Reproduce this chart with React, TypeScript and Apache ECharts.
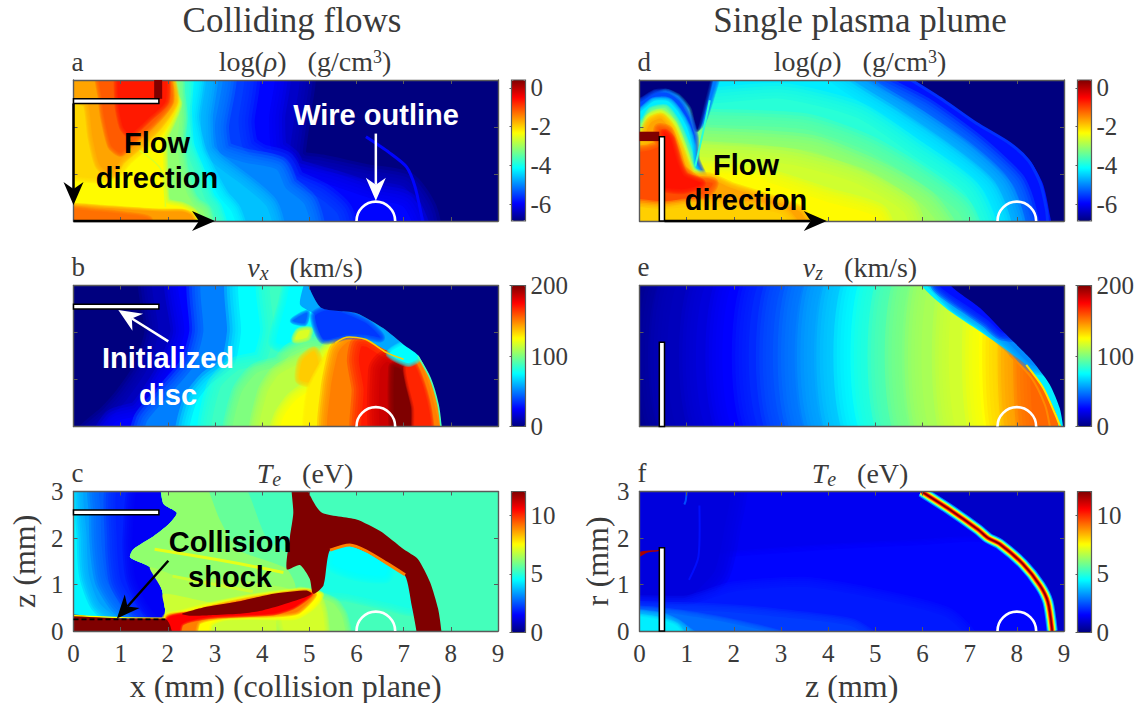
import React, { useEffect, useRef } from "react";
import * as echarts from "echarts";

type Layer = [number, number[]];

const JET = ["#00007f", "#0000ff", "#007fff", "#00ffff", "#7fff7f", "#ffff00", "#ff7f00", "#ff0000", "#7f0000"];
const FULL = [-0.3, -0.3, 9.3, -0.3, 9.3, 3.3, -0.3, 3.3];

const rhoTicks = [0, -2, -4, -6];
const vTicks = [0, 100, 200];
const teTicks = [0, 5, 10];

// a: log density, colliding flows
const rhoCollide: Layer[] = [
  [-7, FULL],
  [-6.5, [-0.3, 3.3, 4.72, 3.3, 4.68, 2.2, 4.59, 1.35, 4.8, 1.15, 5.23, 1.08, 6.2, 0.87, 7, 0.73, 7.38, 0.2, 7.42, -0.3, -0.3, -0.3]],
  [-6.1, [-0.3, 3.3, 4.2, 3.3, 4.15, 2.2, 4.2, 1.5, 4.5, 1.25, 4.6, 1.02, 5.5, 0.75, 6.4, 0.45, 7, 0.3, 7.2, -0.3, -0.3, -0.3]],
  [-5.7, [-0.3, 3.3, 3.55, 3.3, 3.5, 2.1, 3.6, 1.55, 3.95, 1.3, 4.4, 1.18, 4.6, 0.8, 5.2, 0.5, 5.6, 0.15, 5.65, -0.3, -0.3, -0.3]],
  [-5.2, [-0.3, 3.3, 3.1, 3.3, 3.0, 2, 3.1, 1.45, 3.6, 1.25, 4.3, 1.1, 4.5, 0.7, 4.9, 0.35, 5, -0.3, -0.3, -0.3]],
  [-4.8, [-0.3, 3.3, 2.75, 3.3, 2.7, 2.2, 2.75, 1.5, 3, 1.2, 3.6, 0.75, 4.1, 0.3, 4.2, -0.3, -0.3, -0.3]],
  [-4.4, [-0.3, 3.3, 2.5, 3.3, 2.45, 2.2, 2.6, 1.5, 2.85, 0.95, 3.1, 0.5, 3.35, 0.2, 3.45, -0.3, -0.3, -0.3]],
  [-3.9, [-0.3, 3.3, 2.25, 3.3, 2.3, 2.3, 2.35, 1.6, 2.55, 1.1, 2.8, 0.45, 2.95, 0.25, 3.05, -0.3, -0.3, -0.3]],
  [-3.4, [-0.3, 3.3, 2.1, 3.3, 2.2, 2.7, 2.25, 2.2, 2.2, 1.7, 2.25, 1.2, 2.4, 0.6, 2.55, 0.35, 2.75, 0.2, 2.8, -0.3, -0.3, -0.3]],
  [-2.6, [-0.3, 3.3, 1.9, 3.3, 2.1, 2.7, 2.2, 2.5, 2.05, 2.1, 1.9, 1.75, 1.9, 1.2, 1.95, 0.4, 2.3, 0.3, 2.55, 0.15, 2.65, -0.3, -0.3, -0.3]],
  [-2.35, [-0.3, 3.3, 1.9, 3.3, 2.15, 2.55, 1.85, 1.95, 1.5, 1.6, 1.15, 1.3, 0.9, 1, 0.5, 0.9, -0.3, 1.1]],
  [-2, [0.1, 3.3, 1.9, 3.3, 2.12, 2.55, 1.8, 2.05, 1.35, 1.6, 1, 1.3, 0.8, 1, 0.55, 1.2, 0.4, 1.8, 0.3, 2.5, 0.05, 2.6, -0.3, 2.6, -0.3, 3.3]],
  [-1.5, [0.55, 3.3, 1.9, 3.3, 2.05, 2.55, 1.65, 2.05, 1.2, 1.65, 1, 1.45, 0.8, 1.6, 0.65, 2.2, 0.6, 2.6]],
  [-1.05, [1, 3.3, 1.9, 3.3, 1.95, 2.55, 1.6, 2.2, 1.2, 1.85, 1.05, 2, 0.95, 2.5]],
  [-1.95, [-0.3, 0.3, 0.6, 0.28, 1.2, 0.24, 1.9, 0.2, 2.3, 0.2, 2.5, 0.12, 2.6, -0.3, -0.3, -0.3]],
  [-1.65, [-0.3, 0.24, 0.5, 0.2, 1.1, 0.14, 1.6, 0.05, 1.65, -0.3, -0.3, -0.3]],
];
const rhoCollideSoft = [0, 16, 16, 16, 14, 12, 10, 10, 8, 5, 5, 5, 4, 4, 3, 3];
const rhoCollideLines: Layer[] = [
  [-6.1, [6.2, 1.79, 6.7, 1.45, 7.06, 1.15, 7.24, 0.73, 7.4, 0]],
  [-2.9, [1.4, 1.5, 1.85, 1.1, 1.95, 0.3]],
];

// d: log density, single plume
const rhoPlume: Layer[] = [
  [-7, FULL],
  [-6, [-0.3, -0.3, -0.3, 3.3, 5.6, 3.3, 5.76, 3, 6.44, 2.57, 7.14, 2.08, 7.85, 1.65, 8.27, 1.3, 8.55, 0.8, 8.68, 0.23, 8.7, -0.3]],
  [-5.3, [-0.3, -0.3, -0.3, 3.3, 4.8, 3.3, 4.8, 3, 6, 2.35, 7.1, 1.55, 7.9, 0.8, 8.1, 0.3, 8.15, -0.3]],
  [-4.85, [-0.3, -0.3, -0.3, 3.3, 4.45, 3.3, 4.45, 3, 5.7, 2.2, 6.8, 1.45, 7.6, 0.7, 7.85, -0.3]],
  [-4.5, [-0.3, -0.3, -0.3, 3.3, 4.05, 3.3, 4, 3, 5.3, 2.15, 6.4, 1.4, 7.3, 0.65, 7.55, -0.3]],
  [-4.1, [-0.3, -0.3, -0.3, 2.5, 1.5, 2.5, 3, 2.6, 4.6, 2.2, 5.8, 1.4, 6.9, 0.6, 7.2, -0.3]],
  [-3.7, [-0.3, -0.3, -0.3, 2.1, 1.5, 2.05, 3.5, 1.95, 4.8, 1.5, 5.9, 0.85, 6.75, 0.2, 6.9, -0.3]],
  [-3.3, [-0.3, -0.3, -0.3, 1.7, 1.5, 1.65, 3.6, 1.5, 5, 0.95, 6, 0.35, 6.4, -0.3]],
  [-2.95, [-0.3, -0.3, -0.3, 1.4, 1.5, 1.35, 3.2, 1.2, 4.6, 0.8, 5.6, 0.2, 5.7, -0.3]],
  [-2.6, [-0.3, -0.3, -0.3, 1.1, 1.3, 1, 2.6, 0.85, 4, 0.4, 5, 0.1, 5.1, -0.3]],
  [-5.3, [1.4, 3.3, 1.7, 3.3, 1.55, 2.7, 1.35, 2.1, 1.25, 2, 1.3, 2.5]],
  [-7, [-0.3, 3.3, 1.55, 3.3, 1.5, 3, 1.35, 2.4, 1.22, 1.95, 1.1, 2.4, 0.85, 2.7, 0.55, 2.82, 0.25, 2.7, 0, 2.5, -0.3, 2.4]],
  [-5.6, [-0.3, 2.4, 0.05, 2.55, 0.35, 2.72, 0.6, 2.72, 0.85, 2.55, 1.05, 2.2, 1.17, 1.8, 1.2, 1.3, 1.5, 0.5, -0.3, 0.5]],
  [-4.5, [-0.3, 2.15, 0.05, 2.35, 0.3, 2.55, 0.6, 2.55, 0.8, 2.35, 1, 2, 1.12, 1.6, 1.15, 1.2, 1.5, 0.5, -0.3, 0.5]],
  [-3.5, [-0.3, 1.95, 0.08, 2.1, 0.25, 2.35, 0.55, 2.4, 0.75, 2.15, 0.9, 1.85, 1.05, 1.45, 1.1, 1.15, 1.4, 0.6, -0.3, 0.6]],
  [-2.6, [-0.3, 1.85, 0.1, 1.9, 0.2, 2.18, 0.45, 2.28, 0.7, 2.05, 0.85, 1.7, 1, 1.3, 1.1, 1.05, 1.3, 0.98, 1.6, 0.95, 2.6, 0.85, 2.6, -0.3, -0.3, -0.3]],
  [-2, [0.15, 1.9, 0.25, 2.1, 0.45, 2.18, 0.65, 1.95, 0.8, 1.6, 0.95, 1.2, 1.1, 0.95, 1.5, 0.9, 1.95, 0.7, 2.6, 0.5, 3.4, 0.2, 3.6, -0.3, -0.3, -0.3, -0.3, 1.55, 0.1, 1.62, 0.3, 1.7]],
  [-1.4, [0.42, 1.95, 0.6, 1.9, 0.75, 1.5, 0.88, 1.1, 1.2, 0.85, 1.55, 0.8, 1.4, 0.6, 0.9, 0.48, 0.5, 0.4, -0.3, 0.45, -0.3, 1.4, 0.2, 1.5, 0.42, 1.6]],
  [-1, [0.53, 1.85, 0.65, 1.75, 0.8, 1.25, 0.95, 0.95, 1.3, 0.8, 0.95, 0.68, 0.6, 0.7, 0.53, 0.75]],
  [-2.3, [-0.3, 0.28, 0.5, 0.25, 1, 0.3, 2, 0.28, 3, 0.15, 3.3, -0.3, -0.3, -0.3]],
];
const rhoPlumeSoft = [0, 0, 14, 14, 14, 16, 16, 16, 16, 14, 3, 3, 4, 4, 4, 5, 6, 6, 5, 8];
const rhoPlumeLines: Layer[] = [
  [-5.8, [5.76, 3, 6.44, 2.57, 7.14, 2.08, 7.85, 1.65, 8.25, 1.28, 8.5, 0.8, 8.63, 0.23, 8.65, 0]],
  [-4.1, [1.49, 2.57, 1.35, 1.9, 1.18, 1.16]],
];

// b: vx, colliding flows
const vxCollide: Layer[] = [
  [0, FULL],
  [12, [1.75, 3.3, 1.8, 2, 1.55, 1.2, 1.15, 0.6, 0.8, 0.2, 0.3, -0.3, 9.3, -0.3, 9.3, 3.3]],
  [25, [2.3, 3.3, 2.35, 2, 2.1, 1.3, 1.75, 0.7, 1.4, 0.25, 0.9, 0.1, 0.7, -0.3, 9.3, -0.3, 9.3, 3.3]],
  [50, [2.8, 3.3, 2.75, 2, 2.55, 1.3, 2.1, 0.75, 1.7, 0.3, 1.55, 0.1, 1.5, -0.3, 9.3, -0.3, 9.3, 3.3]],
  [75, [3.6, 3.3, 3.55, 2, 3.4, 1.3, 2.9, 0.9, 2.6, 0.5, 2.5, -0.3, 9.3, -0.3, 9.3, 3.3]],
  [87, [4.25, 3.3, 4.25, 2, 4.05, 1.35, 3.5, 1.2, 3.1, 0.8, 3, -0.3, 9.3, -0.3, 9.3, 3.3]],
  [75, [4.7, 3.3, 4.5, 2.6, 4.3, 1.8, 4.5, 1.75, 5.2, 2.3, 5.3, 3.3]],
  [100, [3.9, 1.15, 4.4, 1.3, 4.6, 1.55, 5, 1.7, 5.5, 1.5, 5.5, 0.4, 3.4, -0.3, 3.55, 0.7]],
  [112, [4.35, 1.1, 4.7, 1.3, 5.2, 1.5, 5.6, 1.2, 5.6, 0, 3.95, -0.3, 4.1, 0.7]],
  [125, [4.35, -0.3, 4.45, 0.2, 4.7, 0.55, 5.15, 0.9, 5.44, 1.6, 5.6, 1.8, 6, 1.5, 6, -0.3]],
  [118, [4.78, 2.02, 5, 2.05, 4.95, 1.9, 4.7, 1.85]],
  [135, [4.85, 1.4, 5.1, 1.6, 5.2, 1.3, 5.05, 0.95, 4.8, 1]],
  [128, [5.44, 1.62, 5.55, 1.76, 5.79, 1.88, 6.2, 1.84, 6.64, 1.56, 7, 1.42, 7.3, 1.45, 7.49, 1.17, 7.66, 0.6, 7.77, 0, 7.77, -0.3, 5, -0.3, 5, 0.8]],
  [150, [5.45, -0.3, 5.45, 0.8, 5.6, 1.55, 5.7, 1.7, 5.85, 1.82, 6.2, 1.78, 6.65, 1.5, 7, 1.36, 7.3, 1.4, 7.45, 1.15, 7.62, 0.6, 7.73, -0.3]],
  [170, [6.15, -0.3, 6.15, 0.8, 6.05, 1.4, 6.1, 1.7, 6.2, 1.7, 6.6, 1.45, 6.95, 1.25, 7.05, 0.8, 7.25, -0.3]],
  [185, [6.55, -0.3, 6.5, 1.2, 6.65, 1.38, 6.95, 1.2, 7.05, 0.8, 7.2, 0.4, 7.28, -0.3]],
  [200, [6.85, -0.3, 6.8, 1.25, 6.95, 1.2, 7.05, 0.9, 7.2, 0.4, 7.25, -0.3]],
  [168, [7.25, -0.3, 7.22, 0.4, 7.1, 0.9, 7.05, 1.25, 7.2, 1.35, 7.4, 0.9, 7.55, 0.3, 7.58, -0.3]],
  [58, [4.98, 3.3, 4.98, 3, 5.26, 2.52, 6, 2.41, 6.57, 2.09, 7, 1.74, 7.15, 1.6, 6.7, 1.6, 6.2, 1.84, 5.79, 1.91, 5.3, 1.84, 5.12, 2.37, 4.8, 2.6]],
  [36, [5.12, 2.35, 5.3, 1.86, 5.8, 1.95, 6.2, 1.95, 6.5, 1.9, 6.2, 2.2, 5.7, 2.42, 5.35, 2.47]],
  [75, [6.7, 1.55, 7.05, 1.75, 7.35, 1.5, 7.1, 1.35]],
  [45, [4.65, 2.25, 4.95, 2.42, 4.9, 2.2]],
  [0, [4.98, 3.3, 4.98, 3, 5.26, 2.52, 6, 2.41, 6.57, 2.09, 7, 1.74, 7.3, 1.52, 7.56, 1.03, 7.73, 0.46, 7.8, 0, 7.8, -0.3, 9.3, -0.3, 9.3, 3.3]],
];
const vxCollideSoft = [0, 14, 14, 14, 14, 14, 8, 10, 10, 10, 4, 5, 3, 10, 12, 12, 6, 3, 0, 5, 4, 3, 0];
const vxCollideLines: Layer[] = [
  [135, [5.55, 1.78, 5.79, 1.9, 6.2, 1.85, 6.64, 1.57, 7, 1.43]],
  [90, [7.3, 1.5, 7.56, 1.03, 7.73, 0.46, 7.79, 0]],
];

// e: vz, single plume
const vzLevels = [8, 12, 18, 25, 33, 42, 50, 58, 66, 75, 83, 92, 100, 108, 116, 125, 135, 145, 155];
const vzEdges = [0.6, 1, 1.6, 2.15, 2.7, 3.2, 3.65, 4.05, 4.45, 4.8, 5.15, 5.5, 5.85, 6.25, 6.8, 7.4, 7.8, 8.1, 8.4];
const vzFront: Layer[] = [
  [0, FULL],
  ...vzLevels.map((v, i) => [v, [vzEdges[i], -0.3, 9.3, -0.3, 9.3, 3.3, vzEdges[i], 3.3]] as Layer),
  [72, [5.98, 3.3, 5.98, 3, 6.58, 2.45, 7.22, 2.02, 7.78, 1.63, 8.2, 1.31, 8.56, 0.82, 8.84, 0.25, 8.95, -0.3, 9.3, -0.3, 9.3, 3.3]],
  [52, [6.15, 3.3, 6.7, 2.6, 7.3, 2.2, 7.85, 1.75, 8.35, 1.3, 9.3, 1.3, 9.3, 3.3]],
  [28, [6.35, 3.3, 6.35, 3, 6.9, 2.6, 7.4, 2.25, 7.7, 2, 9, 2, 9.3, 3.3]],
  [0, [6.6, 3.3, 6.6, 3, 7.22, 2.52, 7.78, 1.95, 8.28, 1.45, 8.7, 0.89, 8.91, 0.39, 8.98, 0, 8.98, -0.3, 9.3, -0.3, 9.3, 3.3]],
];
const vzFrontSoft = [0, ...vzLevels.map(() => 17), 0, 8, 8, 0];
const vzLines: Layer[] = [
  [130, [8.2, 1.31, 8.56, 0.82, 8.82, 0.25, 8.92, 0]],
  [148, [7.85, 1.52, 8.3, 1.05, 8.6, 0.45, 8.7, 0]],
];

// c: Te, colliding flows
const cEdge = [1.9, 3.3, 1.9, 2.75, 2.19, 2.54, 2.01, 2.29, 1.7, 2.04, 1.27, 1.76, 1.2, 1.58, 1.62, 1.37, 1.87, 0.9, 1.94, 0.48, 1.94, 0.25];
const teCollide: Layer[] = [
  [4.4, FULL],
  [3.4, [0.3, 3.3, 3, 3.3, 3, -0.3, 1, 0.25, 0.55, 0.6, 0.33, 1.2, 0.28, 2]],
  [2.6, [0.6, 3.3, 3, 3.3, 3, -0.3, 1.4, 0.3, 1, 0.6, 0.7, 1.1, 0.6, 1.8, 0.58, 2.5]],
  [1.9, [1, 3.3, 3, 3.3, 3, -0.3, 1.6, 0.3, 1.25, 0.65, 1, 1.1, 0.92, 1.9]],
  [1.4, [1.45, 3.3, 3, 3.3, 3, -0.3, 1.8, 0.3, 1.5, 0.7, 1.3, 1.2, 1.25, 2]],
  [5.3, [...cEdge, 1.94, -0.3, 9.3, -0.3, 9.3, 3.3]],
  [5.7, [...cEdge, 1.94, -0.3, 5.3, -0.3, 5.3, 0.3, 5.1, 0.9, 4.9, 1.4, 4.1, 2, 3.5, 3.3]],
  [6.2, [...cEdge, 1.94, 0, 4.7, 0.3, 4.7, 1, 4.5, 1.35, 3.5, 1.75, 3.1, 2.4, 2.7, 3.3]],
  [6.5, [1.62, 1.37, 1.87, 0.9, 1.94, 0.48, 1.94, -0.3, 5.2, -0.3, 5.2, 0.5, 4.7, 0.85, 4.4, 0.95, 3.4, 1.1, 2.3, 1.15]],
  [6.9, [1.9, 0.8, 1.94, 0.48, 1.94, -0.3, 5.1, -0.3, 5.1, 0.4, 4.5, 0.6, 3, 0.6]],
  [4.8, [5.3, 0.9, 5.44, 1.74, 5.86, 1.9, 6.21, 1.75, 6.64, 1.45, 7.05, 1.2, 7.2, 0.5, 6.7, 0.6, 5.8, 0.8]],
  [4.5, [5.5, 1.45, 5.6, 1.75, 5.86, 1.88, 6.21, 1.72, 6.64, 1.42, 6.6, 1.2, 6, 1.25]],
  [6.2, [5.1, 0.75, 5.5, 0.6, 5.7, 0.3, 5.75, -0.3, 4.5, -0.3, 4.5, 0.7]],
  [7, [4.8, 0.85, 5.2, 0.65, 5.3, 0.3, 5.3, -0.3, 4.6, -0.3, 4.4, 0.4]],
  [7.5, [1.94, 0.3, 2.3, 0.4, 3, 0.58, 4, 0.77, 4.9, 0.87, 5.25, 0.78, 5.05, 0.5, 4.7, 0.3, 3.8, 0.3, 3.2, 0.28, 2.9, 0.15, 2.8, -0.3, 1.94, -0.3]],
  [9, [2, 0.3, 2.4, 0.36, 3, 0.52, 4, 0.72, 4.9, 0.84, 5.1, 0.78, 4.75, 0.42, 4.3, 0.36, 3.3, 0.33, 2.65, 0.2, 2.5, -0.3, 1.94, -0.3]],
  [10.5, [2, 0.28, 2.6, 0.4, 3.5, 0.6, 4.5, 0.75, 5.05, 0.8, 4.65, 0.5, 4.2, 0.37, 2.9, 0.3, 2.3, 0.15, 2.2, -0.3, 1.94, -0.3]],
  [12, [2.3, 0.37, 2.82, 0.52, 3.53, 0.64, 4.24, 0.8, 4.94, 0.87, 5.05, 0.8, 4.9, 0.72, 4.38, 0.55, 3.9, 0.42, 3.5, 0.37, 2.9, 0.34, 2.47, 0.33]],
  [12, [-0.3, 0.33, 0.5, 0.3, 1, 0.27, 1.94, 0.27, 2.05, 0.12, 2.1, -0.3, -0.3, -0.3]],
  [12, [4.63, 3.3, 4.66, 2.54, 4.59, 2.04, 4.52, 1.33, 4.8, 1.42, 5.01, 1.12, 5.08, 0.8, 5.3, 0.98, 5.44, 1.74, 5.86, 1.83, 6.21, 1.7, 6.64, 1.44, 7.03, 1.19, 7.17, 0.55, 7.27, 0, 7.28, -0.3, 7.8, -0.3, 7.8, 0, 7.73, 0.48, 7.56, 1.05, 7.3, 1.55, 7, 1.76, 6.5, 2.15, 6, 2.4, 5.26, 2.55, 4.98, 3, 4.98, 3.3]],
];
const teCollideSoft = [0, 10, 12, 12, 10, 0, 0, 0, 0, 0, 8, 8, 6, 5, 3, 3, 2, 0, 0, 0];
const teCollideLines: Layer[] = [
  [7.2, [1.72, 1.76, 2.5, 1.63, 3.5, 1.45, 4.45, 1.26]],
  [6.9, [2.1, 1.18, 3, 1, 3.8, 0.85]],
  [7.5, [0, 0.33, 1, 0.29, 1.94, 0.28]],
  [9, [5.44, 1.74, 5.86, 1.85, 6.21, 1.72, 6.64, 1.46, 7.03, 1.21]],
];

// f: Te, single plume
const tePlume: Layer[] = [
  [0.85, FULL],
  [1.35, [-0.3, -0.3, -0.3, 3.3, 5.98, 3.3, 5.98, 3, 6.58, 2.61, 7.18, 2.18, 7.39, 2, 7.64, 1.87, 8.13, 1.44, 8.49, 0.98, 8.66, 0.62, 8.75, 0, 8.75, -0.3]],
  [1.55, [-0.3, -0.3, -0.3, 1.4, 2, 1.6, 4, 1.75, 6, 1.85, 7.3, 1.9, 8.1, 1.4, 8.45, 0.98, 8.62, 0.62, 8.7, -0.3]],
  [1.1, [-0.3, 3.3, 1.9, 3.3, 1.8, 2.2, 1.6, 1.3, 1.2, 0.85, 0.8, 0.65, 0.4, 0.7, -0.3, 0.9]],
  [1.8, [-0.3, 0.5, 1, 0.55, 2, 0.85, 3.5, 0.95, 5, 0.7, 6.5, 0.3, 7, -0.3, -0.3, -0.3]],
  [2.2, [-0.3, 0.42, 0.8, 0.45, 2, 0.4, 3, 0.3, 4.5, 0.1, 5, -0.3, -0.3, -0.3]],
  [2.8, [-0.3, 0.4, 0.5, 0.4, 1.2, 0.3, 2, 0.15, 3, -0.1, 3.2, -0.3, -0.3, -0.3]],
  [3.6, [-0.3, 0.38, 0.42, 0.35, 0.8, 0.2, 1, 0.05, 1.4, -0.3, -0.3, -0.3]],
  [4.3, [-0.3, 0.3, 0.4, 0.25, 0.8, 0.1, 1, -0.3, -0.3, -0.3]],
  [11.5, [0, 1.7, 0.42, 1.74, 0.42, 1.72, 0.15, 1.68, 0, 1.6]],
];
const tePlumeSoft = [0, 0, 6, 16, 10, 8, 5, 3, 3, 0];
const teBandLevels = [3, 4.5, 6, 7.5, 9, 10.5, 12];
const teBandPath = [5.98, 3, 6.58, 2.61, 7.18, 2.18, 7.39, 2, 7.64, 1.87, 8.13, 1.44, 8.49, 0.98, 8.66, 0.62, 8.75, 0];
const tePlumeLines: Layer[] = [
  [2.4, [1, 3, 0.98, 2.8, 0.95, 2.72]],
  [1.65, [1.27, 2.7, 1.25, 1.6, 1.05, 1.1]],
  ...teBandLevels.map((lv) => [lv, teBandPath] as Layer),
];
const bandWidths = [2, 2, 11, 9, 7.5, 6, 4.5, 3, 1.5];

// Overlays, in mm
const discCollide = [0, 2.5, 1.81, 2.6];
const wirePlume = [0.42, 0, 0.53, 1.79];
const wireCentreCollide = 6.41;
const wireCentrePlume = 8.0;
const wireRadius = 0.41;
const blockCollide = [1.71, 2.6, 1.88, 3.1];
const blockPlume = [-0.1, 1.7, 0.42, 1.9];
const shockDash = [0, 0.25, 1.94, 0.25];

type Arrow = [number, number, number, number, string];
const arrowsA: Arrow[] = [
  [0, 2.5, 0, 0.34, "#000"],
  [0, 0, 3, 0, "#000"],
  [6.41, 1.86, 6.41, 0.43, "#fff"],
];
const arrowsB: Arrow[] = [[2.01, 1.81, 0.95, 2.48, "#fff"]];
const arrowsC: Arrow[] = [[2.01, 1.51, 0.92, 0.27, "#000"]];
const arrowsD: Arrow[] = [[0.53, 0, 3.97, 0, "#000"]];

const SERIF = "'Liberation Serif', serif";
const SANS = "'Liberation Sans', sans-serif";
const INK = "#3a3a3a";
const BOX = "#5a5a5a";
const FEATHER = [1, 0.8, 0.6, 0.4, 0.2];

type PanelDef = {
  left: number; top: number; barLeft: number; layers: Layer[]; soft: number[]; lines: Layer[]; lineWidths: number[];
  range: [number, number]; axisRange: [number, number]; ticks: number[]; boxes: number[][]; blocks: number[][];
  circle: number; arrows: Arrow[]; dash?: number[]; labels: boolean; yName?: string; xName?: string; titleX: number;
};
const W = 424.5, H = 141;
const panels: PanelDef[] = [
  { left: 73.5, top: 80, barLeft: 511.5, layers: rhoCollide, soft: rhoCollideSoft, lines: rhoCollideLines, lineWidths: [3, 1.5], range: [-7, 0], axisRange: [-6.85, 0.4], ticks: rhoTicks, boxes: [discCollide], blocks: [blockCollide], circle: wireCentreCollide, arrows: arrowsA, labels: false, titleX: 300 },
  { left: 73.5, top: 285.5, barLeft: 511.5, layers: vxCollide, soft: vxCollideSoft, lines: vxCollideLines, lineWidths: [1.5, 1.6], range: [0, 200], axisRange: [0, 200], ticks: vTicks, boxes: [discCollide], blocks: [], circle: wireCentreCollide, arrows: arrowsB, labels: false, titleX: 300 },
  { left: 73.5, top: 491.5, barLeft: 511.5, layers: teCollide, soft: teCollideSoft, lines: teCollideLines, lineWidths: [3, 3, 1.2, 3], range: [0, 12], axisRange: [0, 12], ticks: teTicks, boxes: [discCollide], blocks: [], circle: wireCentreCollide, arrows: arrowsC, dash: shockDash, labels: true, yName: "z (mm)", xName: "x (mm) (collision plane)", titleX: 300 },
  { left: 639.5, top: 80, barLeft: 1077.5, layers: rhoPlume, soft: rhoPlumeSoft, lines: rhoPlumeLines, lineWidths: [3, 2], range: [-7, 0], axisRange: [-6.85, 0.4], ticks: rhoTicks, boxes: [wirePlume], blocks: [blockPlume], circle: wireCentrePlume, arrows: arrowsD, labels: false, titleX: 855 },
  { left: 639.5, top: 285.5, barLeft: 1077.5, layers: vzFront, soft: vzFrontSoft, lines: vzLines, lineWidths: [2, 2], range: [0, 200], axisRange: [0, 200], ticks: vTicks, boxes: [wirePlume], blocks: [], circle: wireCentrePlume, arrows: [], labels: false, titleX: 855 },
  { left: 639.5, top: 491.5, barLeft: 1077.5, layers: tePlume, soft: tePlumeSoft, lines: tePlumeLines, lineWidths: bandWidths, range: [0, 12], axisRange: [0, 12], ticks: teTicks, boxes: [wirePlume], blocks: [], circle: wireCentrePlume, arrows: [], labels: true, yName: "r (mm)", xName: "z (mm)", titleX: 855 },
];

const panelLetters = ["a", "b", "c", "d", "e", "f"];
const panelTitles = [
  "{n|log(}{i|ρ}{n|)   (g/cm}{u|3}{n|)}",
  "{i|v}{s|x}{n|   (km/s)}",
  "{i|T}{s|e}{n|   (eV)}",
  "{n|log(}{i|ρ}{n|)   (g/cm}{u|3}{n|)}",
  "{i|v}{s|z}{n|   (km/s)}",
  "{i|T}{s|e}{n|   (eV)}",
];
const columnTitles = ["Colliding flows", "Single plasma plume"];

function arrowShape(api: any, a: Arrow) {
  const p0 = api.coord([a[0], a[1]]);
  const p1 = api.coord([a[2], a[3]]);
  const dx = p1[0] - p0[0], dy = p1[1] - p0[1];
  const len = Math.hypot(dx, dy), ux = dx / len, uy = dy / len, nx = -uy, ny = ux;
  const headLen = 23, half = 10, notch = 16;
  const back = [p1[0] - ux * headLen, p1[1] - uy * headLen];
  const mid = [p1[0] - ux * notch, p1[1] - uy * notch];
  return [
    { type: "line", shape: { x1: p0[0], y1: p0[1], x2: mid[0], y2: mid[1] }, style: { stroke: a[4], lineWidth: 2.5 } },
    { type: "polygon", shape: { points: [p1, [back[0] + nx * half, back[1] + ny * half], mid, [back[0] - nx * half, back[1] - ny * half]] }, style: { fill: a[4] } },
  ];
}

function pairs(flat: number[]) {
  const out: number[][] = [];
  for (let i = 0; i + 1 < flat.length; i += 2) out.push([flat[i], flat[i + 1]]);
  return out;
}

function buildOption() {
  const grid: any[] = [], xAxis: any[] = [], yAxis: any[] = [], series: any[] = [], visualMap: any[] = [], title: any[] = [];
  const rich = {
    n: { fontFamily: SERIF, fontSize: 28, color: INK },
    i: { fontFamily: SERIF, fontSize: 28, fontStyle: "italic", color: INK },
    s: { fontFamily: SERIF, fontSize: 20, fontStyle: "italic", color: INK, padding: [10, 0, 0, 0] },
    u: { fontFamily: SERIF, fontSize: 18, color: INK, padding: [0, 0, 8, 0] },
  };
  const mainAxis = (p: PanelDef, gi: number, pos: string, isX: boolean, withLabels: boolean, name?: string) => ({
    type: "value", gridIndex: gi, position: pos, min: 0, max: isX ? 9 : 3, interval: 1,
    axisLine: { show: true, onZero: false, lineStyle: { color: BOX, width: 1.4 } },
    axisTick: { show: true, inside: true, length: 4, lineStyle: { color: BOX, width: 1 } },
    splitLine: { show: false },
    axisLabel: { show: withLabels, color: INK, fontFamily: SERIF, fontSize: 25, margin: 10 },
    z: 6,
    ...(name ? {
      name, nameLocation: "middle", nameGap: isX ? 39 : (p.left > 300 ? 24.5 : 33.5),
      nameRotate: isX ? 0 : 90,
      nameTextStyle: { color: INK, fontFamily: SERIF, fontSize: 32 },
    } : {}),
  });

  panels.forEach((p, i) => {
    const gi = i * 2, bar = gi + 1;
    grid.push({ left: p.left, top: p.top, width: W, height: H, show: false });
    grid.push({ left: p.barLeft, top: p.top, width: 14, height: H, show: true, borderColor: BOX, borderWidth: 1.2, backgroundColor: "transparent", z: 6 });
    const xi = xAxis.length, yi = yAxis.length;
    xAxis.push(mainAxis(p, gi, "bottom", true, p.labels, p.xName));
    xAxis.push(mainAxis(p, gi, "top", true, false));
    yAxis.push(mainAxis(p, gi, "left", false, p.labels, p.yName));
    yAxis.push(mainAxis(p, gi, "right", false, false));
    xAxis.push({ type: "value", gridIndex: bar, min: 0, max: 1, show: false });
    yAxis.push({
      type: "value", gridIndex: bar, position: "right", min: p.axisRange[0], max: p.axisRange[1], z: 6,
      axisLine: { show: false }, splitLine: { show: false },
      axisTick: { show: true, inside: true, length: 2, customValues: p.ticks, lineStyle: { color: BOX } },
      axisLabel: { show: true, customValues: p.ticks, color: INK, fontFamily: SERIF, fontSize: 25, margin: 5 },
    });

    const contourIndex = series.length;
    series.push({
      type: "custom", xAxisIndex: xi, yAxisIndex: yi, clip: true, silent: true,
      data: p.layers.map((l, k) => [l[0], k]),
      dimensions: ["level", "index"],
      encode: { x: 0, y: 1 },
      renderItem: (_: any, api: any) => {
        const k = api.value(1);
        const pts = pairs(p.layers[k][1]).map((c) => api.coord(c));
        const color = api.visual("color");
        const shape = { points: pts, smooth: 0.22 };
        const children: any[] = [];
        const f = p.soft[k] || 0;
        if (f > 0) {
          FEATHER.forEach((s) => children.push({
            type: "polygon", shape, style: { fill: null, stroke: color, lineWidth: 2 * f * s, opacity: 0.3, lineJoin: "round" },
          }));
        }
        children.push({ type: "polygon", shape, style: { fill: color } });
        return { type: "group", children };
      },
    });
    const linesIndex = series.length;
    series.push({
      type: "custom", xAxisIndex: xi, yAxisIndex: yi, clip: true, silent: true,
      data: p.lines.map((l, k) => [l[0], k]),
      dimensions: ["level", "index"],
      encode: { x: 0, y: 1 },
      renderItem: (_: any, api: any) => {
        const k = api.value(1);
        const pts = pairs(p.lines[k][1]).map((c) => api.coord(c));
        return { type: "polyline", shape: { points: pts, smooth: 0.25 }, style: { stroke: api.visual("color"), fill: null, lineWidth: p.lineWidths[k] } };
      },
    });
    series.push({
      type: "custom", xAxisIndex: xi, yAxisIndex: yi, clip: false, silent: true, z: 8,
      data: [[0, 0]],
      renderItem: (_: any, api: any) => {
        const rectOf = (b: number[]) => {
          const a = api.coord([b[0], b[3]]), c = api.coord([b[2], b[1]]);
          return { x: a[0], y: a[1], width: c[0] - a[0], height: c[1] - a[1] };
        };
        const children: any[] = [];
        p.blocks.forEach((b) => {
          const b2 = [Math.max(b[0], 0), b[1], b[2], Math.min(b[3], 3)];
          children.push({ type: "rect", shape: rectOf(b2), style: { fill: JET[8] } });
        });
        p.boxes.forEach((b) => children.push({ type: "rect", shape: rectOf(b), style: { fill: "#fff", stroke: "#000", lineWidth: 1.5 } }));
        const c = api.coord([p.circle, 0]);
        const r = api.size([wireRadius, 0])[0];
        children.push({ type: "arc", shape: { cx: c[0], cy: c[1], r, startAngle: Math.PI, endAngle: 2 * Math.PI, clockwise: true }, style: { stroke: "#fff", fill: null, lineWidth: 2.6 } });
        if (p.dash) {
          const d0 = api.coord([p.dash[0], p.dash[1]]), d1 = api.coord([p.dash[2], p.dash[3]]);
          children.push({ type: "line", shape: { x1: d0[0], y1: d0[1], x2: d1[0], y2: d1[1] }, style: { stroke: "#000", lineWidth: 1.8, lineDash: [5, 3] } });
        }
        p.arrows.forEach((a) => children.push(...arrowShape(api, a)));
        return { type: "group", children };
      },
    });
    visualMap.push({
      type: "continuous", seriesIndex: [contourIndex, linesIndex], dimension: 0, min: p.range[0], max: p.range[1],
      inRange: { color: JET }, left: p.barLeft, top: p.top, itemWidth: 14, itemHeight: H, padding: 0,
      text: ["", ""], calculable: false, hoverLink: false, z: 2,
    });

    title.push({ text: panelLetters[i], left: p.left - 7, top: p.top - 37, textStyle: { fontFamily: SERIF, fontSize: 27, fontWeight: "normal", color: INK } });
    title.push({ text: panelTitles[i], left: p.titleX, top: p.top - 38, textAlign: "center", textStyle: { rich, fontFamily: SERIF, fontSize: 28, fontWeight: "normal", color: INK } });
  });
  title.push({ text: columnTitles[0], left: 287, top: -2, textAlign: "center", textStyle: { fontFamily: SERIF, fontSize: 35, fontWeight: "normal", color: INK } });
  title.push({ text: columnTitles[1], left: 855, top: -2, textAlign: "center", textStyle: { fontFamily: SERIF, fontSize: 35, fontWeight: "normal", color: INK } });

  const note = (text: string, x: number, y: number, fill: string) => ({
    type: "text", x, y, z: 50, silent: true,
    style: { text, fill, fontFamily: SANS, fontWeight: "bold", fontSize: 29, align: "center", verticalAlign: "middle" },
  });
  const graphic = [
    note("Flow", 157, 143, "#000"), note("direction", 157, 178, "#000"),
    note("Wire outline", 376, 115, "#fff"),
    note("Initialized", 168, 358, "#fff"), note("disc", 168, 395, "#fff"),
    note("Collision", 230, 542, "#000"), note("shock", 230, 577, "#000"),
    note("Flow", 746, 165, "#000"), note("direction", 746, 200, "#000"),
  ];
  return { animation: false, backgroundColor: "#fff", grid, xAxis, yAxis, series, visualMap, title, graphic };
}

export default function App() {
  const ref = useRef<HTMLDivElement>(null);
  useEffect(() => {
    document.body.style.margin = "0";
    const chart = echarts.init(ref.current!, undefined, { renderer: "svg" });
    chart.setOption(buildOption() as any);
    return () => chart.dispose();
  }, []);
  return <div ref={ref} style={{ width: 1138, height: 703 }} />;
}
